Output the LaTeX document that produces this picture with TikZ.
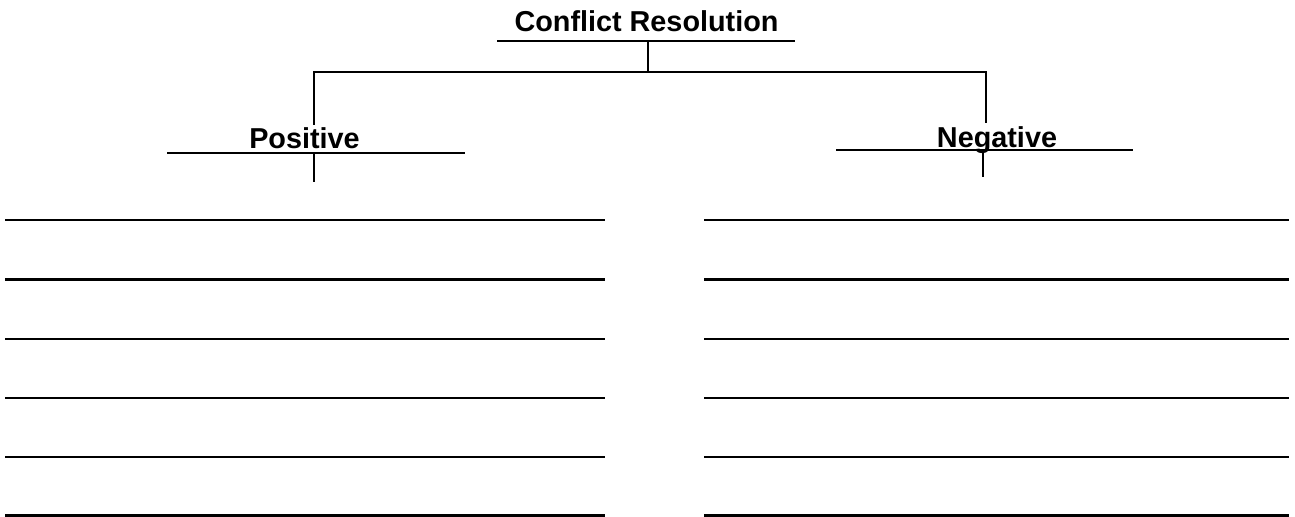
\documentclass[tikz,border=0pt]{standalone}
\usepackage{fontspec}
\setmainfont{Liberation Sans}
\begin{document}
\begin{tikzpicture}[x=0.5pt, y=-0.5pt,
  rule/.style={line width=1.3pt},
  heading/.style={font=\bfseries\fontsize{14.4}{17}\selectfont, inner sep=0pt, anchor=base}]
\useasboundingbox (0,0) rectangle (1295,517);
% headings
\node[heading] (conf) at (646.5,31.5) {Conflict Resolution};
\node[heading] (pos) at (304.5,148.5) {Positive};
\node[heading] (neg) at (997,147.5) {Negative};
% tree points
\coordinate (confM) at (648,41);
\coordinate (bar) at (648,72);
\coordinate (posTop) at (314,125);
\coordinate (negTop) at (986,123);
\coordinate (posM) at (314,153);
\coordinate (posEnd) at (314,182);
\coordinate (negM) at (983,150);
\coordinate (negEnd) at (983,177);
% underlines
\draw[rule] (497,41) -- (795,41);
\draw[rule] (167,153) -- (465,153);
\draw[rule] (836,150) -- (1133,150);
% connectors
\draw[rule] (confM) -- (bar);
\draw[rule] (posTop) |- (bar) -| (negTop);
\draw[rule] (posM) -- (posEnd);
\draw[rule] (negM) -- (negEnd);
% writing lines
\foreach \y in {220,279.5,339,398,457,515.7}{
  \draw[rule] (5,\y) -- (605,\y);
  \draw[rule] (704,\y) -- (1289,\y);
}
\end{tikzpicture}
\end{document}
